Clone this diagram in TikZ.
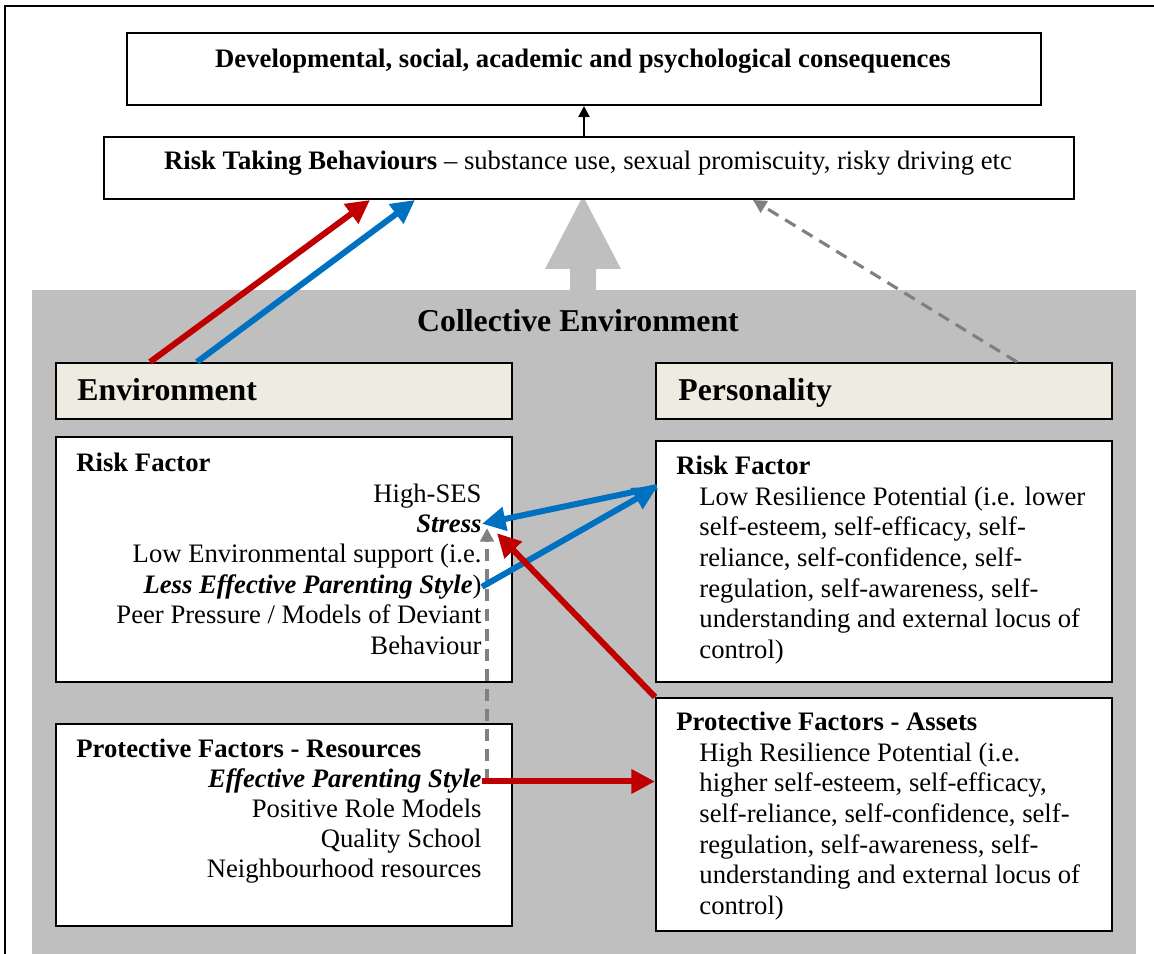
\documentclass[tikz,border=0pt]{standalone}
\usepackage{fontspec}
\setmainfont{Liberation Serif}
\usetikzlibrary{arrows.meta,calc}

\definecolor{arrowred}{HTML}{C00000}
\definecolor{arrowblue}{HTML}{0070C0}
\definecolor{envgray}{HTML}{BFBFBF}
\definecolor{dashgray}{HTML}{808080}
\definecolor{headfill}{HTML}{EEECE1}

\tikzset{
  box/.style={draw, line width=0.9pt, fill=white, inner sep=0pt, anchor=north west},
  headbox/.style={box, fill=headfill},
  boxsize/.style 2 args={minimum width=#1*0.45pt, minimum height=#2*0.45pt},
  txt/.style={inner sep=0pt, font=\fontsize{12}{13.7}\selectfont},
  hd/.style={inner sep=0pt, font=\fontsize{14.3}{16}\selectfont\bfseries},
  redarr/.style={draw=arrowred, line width=2.7pt, -{Triangle[length=10.6pt,width=10.4pt]}},
  bluearr/.style={draw=arrowblue, line width=2.7pt, -{Triangle[length=10.6pt,width=10.4pt]}},
  dasharr/.style={draw=dashgray, line width=1.4pt, dash pattern=on 5.4pt off 3.6pt, -{Triangle[length=6pt,width=6pt]}},
  blackarr/.style={draw=black, line width=0.9pt, -{Triangle[length=5pt,width=5pt]}}
}

\begin{document}
\begin{tikzpicture}[x=0.45pt, y=-0.45pt]
\useasboundingbox (0,0) rectangle (1154,954);

% frame and collective environment
\draw[line width=0.9pt] (5,960) -- (5,6) -- (1160,6);
\fill[envgray] (32,290) rectangle (1136,960);
\fill[envgray] (570,290) -- (570,269) -- (545,269) -- (583,196) -- (621,269) -- (596,269) -- (596,290) -- cycle;

% outcome boxes
\node[box, boxsize={914}{72}] (conseq) at (126,32) {};
\node[txt, font=\fontsize{12}{13.7}\selectfont\bfseries, anchor=base] (conseqtxt) at (583,68)
  {Developmental, social, academic and psychological consequences};
\node[box, boxsize={970}{62}] (riskbeh) at (103,136) {};
\node[txt, anchor=base] (riskbehtxt) at (588,170)
  {\textbf{Risk Taking Behaviours} \textendash\ substance use, sexual promiscuity, risky driving etc};

\node[hd, anchor=base] (collect) at (578,332) {Collective Environment};

% headers
\node[headbox, boxsize={456}{56}] (envhead) at (55,362) {};
\node[hd, anchor=base west] at (77,400.7) {Environment};
\node[headbox, boxsize={456}{56}] (pershead) at (655,362) {};
\node[hd, anchor=base west] at (678,400.7) {Personality};

% environment: risk factor
\node[box, boxsize={456}{245}] (envrisk) at (55,436) {};
\node[txt, font=\fontsize{12}{13.7}\selectfont\bfseries, anchor=base west] at (76,471.7) {Risk Factor};
\foreach \ln [count=\i] in {High-SES, \textbf{\textit{Stress}}, Low Environmental support (i.e.,
    \textbf{\textit{Less Effective Parenting Style}}), Peer Pressure / Models of Deviant, Behaviour}
  \node[txt, anchor=base east] (envr\i) at (482,{471.7+30.4*\i}) {\ln};

% environment: protective factors
\node[box, boxsize={456}{202}] (envprot) at (55,723) {};
\node[txt, font=\fontsize{12}{13.7}\selectfont\bfseries, anchor=base west] at (76,758) {Protective Factors - Resources};
\foreach \ln [count=\i] in {\textbf{\textit{Effective Parenting Style}}, Positive Role Models,
    Quality School, Neighbourhood resources}
  \node[txt, anchor=base east] (envp\i) at (482,{758+30*\i}) {\ln};

% personality: risk factor
\node[box, boxsize={456}{241}] (persrisk) at (655,440) {};
\node[txt, font=\fontsize{12}{13.7}\selectfont\bfseries, anchor=base west] at (676,474.7) {Risk Factor};
\foreach \ln [count=\i] in {Low Resilience Potential (i.e. lower, {self-esteem, self-efficacy, self-},
    {reliance, self-confidence, self-}, {regulation, self-awareness, self-},
    understanding and external locus of, control)}
  \node[txt, anchor=base west] (persr\i) at (699,{474.7+30.6*\i}) {\ln};

% personality: protective factors
\node[box, boxsize={456}{233}] (persprot) at (655,697) {};
\node[txt, font=\fontsize{12}{13.7}\selectfont\bfseries, anchor=base west] at (676,730.7) {Protective Factors - Assets};
\foreach \ln [count=\i] in {High Resilience Potential (i.e., {higher self-esteem, self-efficacy,},
    {self-reliance, self-confidence, self-}, {regulation, self-awareness, self-},
    understanding and external locus of, control)}
  \node[txt, anchor=base west] (persp\i) at (699,{730.7+30.6*\i}) {\ln};

\coordinate (hub) at ($(persrisk.north west)+(2,47)$);

% links
\draw[blackarr] (riskbeh.north -| conseq.south) -- (conseq.south);
\draw[redarr] ($(envhead.north west)+(95,0)$) -- ($(riskbeh.south west)+(267,0)$);
\draw[bluearr] ($(envhead.north west)+(142,0)$) -- ($(riskbeh.south west)+(312,0)$);
\draw[dasharr] ($(pershead.north east)+(-96,0)$) -- ($(riskbeh.south west)+(650,0)$);

\draw[dasharr] ($(envp1.east)+(5,0)$) -- ($(envr2.south east)+(5,-5)$);
\draw[bluearr] (hub) -- (envr2.east);
\draw[bluearr] (envr4.east) -- (hub);
\draw[redarr] (persprot.north west) -- ($(envr2.south east)+(15,0)$);
\draw[redarr] (envp1.east) -- (envp1.east -| persprot.west);
\end{tikzpicture}
\end{document}
